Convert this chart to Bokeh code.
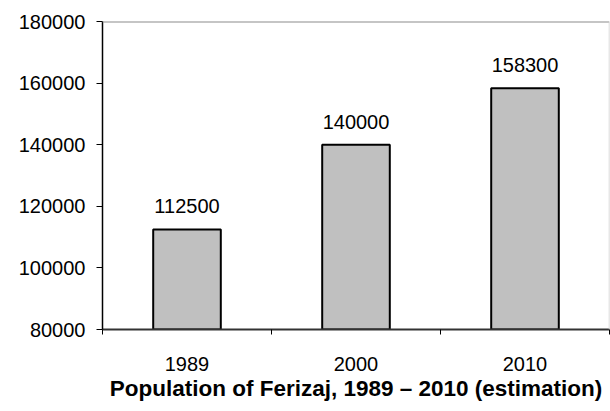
from bokeh.plotting import figure
from bokeh.models import FixedTicker, Span, ColumnDataSource
from bokeh.core.properties import value
from bokeh.embed import file_html
from bokeh.resources import INLINE

years = ["1989", "2000", "2010"]
population = [112500, 140000, 158300]
y_ticks = [80000, 100000, 120000, 140000, 160000, 180000]
title_text = "Population of Ferizaj, 1989 \u2013 2010 (estimation)"

FONT = "Liberation Sans"
FS = "20px"

xs = [i + 0.5 for i in range(len(years))]
src = ColumnDataSource(dict(x=xs, pop=population, lbl=[str(v) for v in population]))

p = figure(width=610, height=411, output_backend="svg", toolbar_location=None,
           x_range=(0, len(years)), y_range=(y_ticks[0], y_ticks[-1]),
           min_border_left=102, min_border_top=21, min_border_right=1, min_border_bottom=82)

p.vbar(x="x", top="pop", bottom=y_ticks[0], width=0.4, source=src,
       fill_color="#c0c0c0", line_color="black", line_width=2)
p.text(x="x", y="pop", text="lbl", source=src, text_align="center",
       text_baseline="alphabetic", y_offset=-23, text_font=value(FONT),
       text_font_size=FS, text_color="black")

p.xgrid.visible = False
p.ygrid.visible = False
p.outline_line_color = None
p.background_fill_color = "white"
p.border_fill_color = "white"

p.add_layout(Span(location=y_ticks[-1], dimension="width", line_color="#8c8c8c", line_width=2))
p.add_layout(Span(location=len(years), dimension="height", line_color="#d0d0d0", line_width=1.5))

# y axis
p.yaxis.ticker = FixedTicker(ticks=y_ticks)
p.yaxis.major_label_overrides = {t: str(t) for t in y_ticks}
p.yaxis.major_tick_out = 6
p.yaxis.major_tick_in = 0
p.yaxis.minor_tick_line_color = None
p.yaxis.axis_line_color = "black"
p.yaxis.axis_line_width = 1.5
p.yaxis.major_tick_line_color = "black"
p.yaxis.major_label_text_font = FONT
p.yaxis.major_label_text_font_size = FS
p.yaxis.major_label_text_color = "black"
p.yaxis.major_label_standoff = 11

# x axis
p.xaxis.ticker = FixedTicker(ticks=xs, minor_ticks=list(range(len(years) + 1)))
p.xaxis.major_label_overrides = {x: y for x, y in zip(xs, years)}
p.xaxis.major_tick_out = 0
p.xaxis.major_tick_in = 0
p.xaxis.minor_tick_out = 5
p.xaxis.minor_tick_in = 0
p.xaxis.minor_tick_line_color = "black"
p.xaxis.axis_line_color = "#333333"
p.xaxis.axis_line_width = 2
p.xaxis.major_label_text_font = FONT
p.xaxis.major_label_text_font_size = FS
p.xaxis.major_label_text_color = "black"
p.xaxis.major_label_standoff = 22
p.xaxis.axis_label = title_text
p.xaxis.axis_label_text_font = FONT
p.xaxis.axis_label_text_font_size = "22.5px"
p.xaxis.axis_label_text_font_style = "bold"
p.xaxis.axis_label_text_color = "black"
p.xaxis.axis_label_standoff = 2

open("out.html", "w").write(file_html(p, INLINE))
